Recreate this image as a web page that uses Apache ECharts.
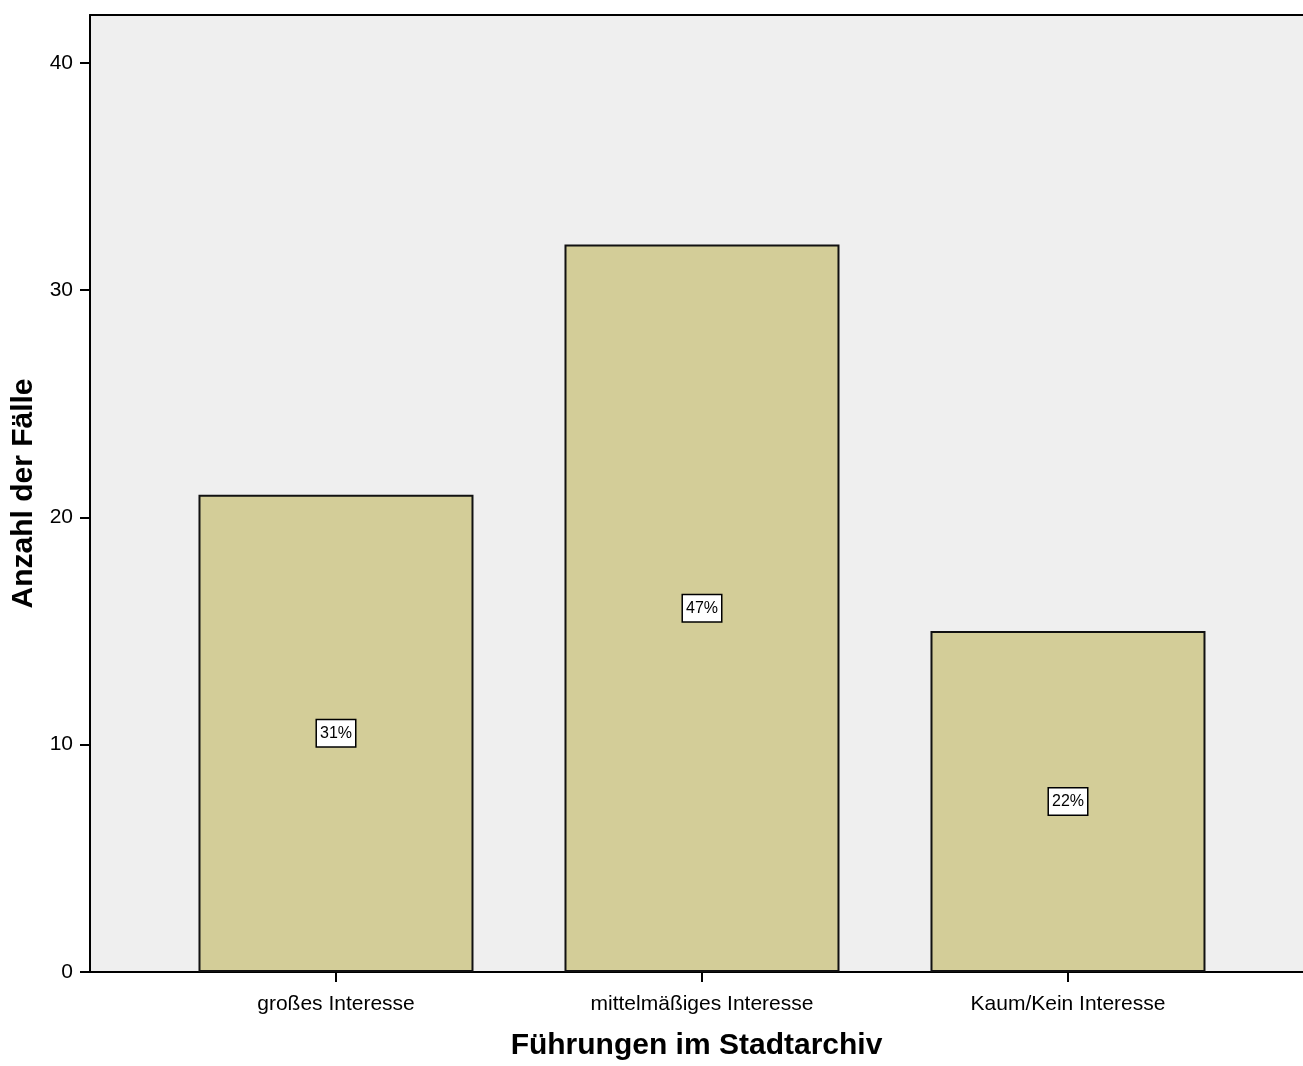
<!DOCTYPE html>
<html>
<head>
<meta charset="utf-8">
<script src="https://cdn.jsdelivr.net/npm/echarts@6/dist/echarts.min.js"></script>
<style>
  html, body { margin: 0; padding: 0; background: #ffffff; }
  #chart { width: 1303px; height: 1066px; }
</style>
</head>
<body>
<div id="chart"></div>
<script>
// Führungen im Stadtarchiv – Anzahl der Fälle je Interesse-Stufe
const categories = ['großes Interesse', 'mittelmäßiges Interesse', 'Kaum/Kein Interesse'];
const counts = [21, 32, 15];
const percentLabels = ['31%', '47%', '22%'];
const yTicks = [0, 10, 20, 30, 40];

const FONT = "'Liberation Sans', Arial, Helvetica, sans-serif";
const positions = categories.map((_, i) => i + 1);

const chart = echarts.init(document.getElementById('chart'), null, { renderer: 'canvas' });

chart.setOption({
  animation: false,
  backgroundColor: '#ffffff',
  grid: {
    left: 90,
    top: 15,
    right: 0,
    bottom: 93,
    show: true,
    backgroundColor: '#efefef',
    borderWidth: 0
  },
  xAxis: [{
    type: 'value',
    min: 0.3279,
    max: 3.6421,
    name: 'Führungen im Stadtarchiv',
    nameLocation: 'middle',
    nameGap: 59,
    nameTextStyle: { fontFamily: FONT, fontSize: 30, fontWeight: 'bold', color: '#000' },
    axisLine: { show: true, lineStyle: { color: '#000', width: 2 } },
    axisTick: { show: true, length: 10, customValues: positions, lineStyle: { color: '#000', width: 2 } },
    axisLabel: {
      customValues: positions,
      margin: 22,
      fontFamily: FONT,
      fontSize: 21,
      color: '#000',
      formatter: v => categories[Math.round(v) - 1] || ''
    },
    splitLine: { show: false }
  }, {
    // upper frame line of the plot area
    type: 'value',
    position: 'top',
    min: 0.3279,
    max: 3.6421,
    axisLine: { show: true, lineStyle: { color: '#000', width: 2 } },
    axisTick: { show: false },
    axisLabel: { show: false },
    splitLine: { show: false }
  }],
  yAxis: {
    type: 'value',
    min: 0,
    max: 42.1,
    name: 'Anzahl der Fälle',
    nameLocation: 'middle',
    nameGap: 37,
    nameTextStyle: { fontFamily: FONT, fontSize: 30, fontWeight: 'bold', color: '#000' },
    axisLine: { show: true, lineStyle: { color: '#000', width: 2 } },
    axisTick: { show: true, length: 10, customValues: yTicks, lineStyle: { color: '#000', width: 2 } },
    axisLabel: {
      customValues: yTicks,
      margin: 17,
      fontFamily: FONT,
      fontSize: 21,
      color: '#000'
    },
    splitLine: { show: false }
  },
  series: [{
    type: 'bar',
    xAxisIndex: 0,
    barWidth: 275,
    data: counts.map((c, i) => [positions[i], c]),
    itemStyle: { color: '#d3cd98', borderColor: '#111111', borderWidth: 2 },
    label: {
      show: true,
      position: 'inside',
      formatter: p => percentLabels[p.dataIndex],
      fontFamily: FONT,
      fontSize: 16,
      color: '#000',
      backgroundColor: '#ffffff',
      borderColor: '#000000',
      borderWidth: 1.5,
      padding: [5, 3, 5, 3]
    }
  }]
});
</script>
</body>
</html>
